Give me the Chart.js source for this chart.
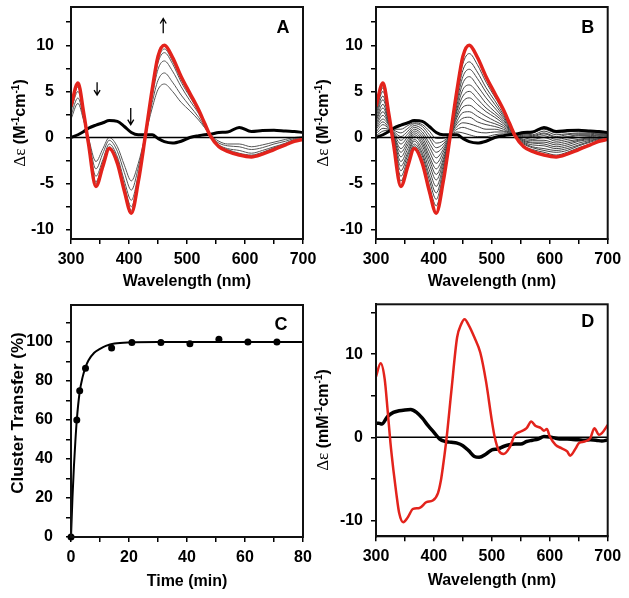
<!DOCTYPE html>
<html>
<head>
<meta charset="utf-8">
<script src="https://cdn.jsdelivr.net/npm/chart.js@4.4.1/dist/chart.umd.min.js"></script>
<style>
  body { margin: 0; background: #fff; }
  canvas { position: absolute; }
</style>
</head>
<body>
<canvas id="ca" width="322" height="298" style="left:0;top:0"></canvas>
<canvas id="cb" width="317" height="298" style="left:312px;top:0"></canvas>
<canvas id="cc" width="322" height="300" style="left:0;top:298px"></canvas>
<canvas id="cd" width="317" height="300" style="left:312px;top:298px"></canvas>
<script>
// ---- data ----
// panels A and B: wavelength grid (nm)
const wl = [300, 312, 322, 330, 343, 355, 366, 380, 392, 404, 416, 428, 440, 450, 461, 475, 490, 505, 520, 530, 540, 555, 570, 590, 611, 630, 650, 670, 685, 700];
// final spectrum (red)
const redAB = [3.4, 5.9, 2.6, -0.6, -5.3, -3.1, -1.2, -2.8, -5.8, -8.2, -4.8, 0.1, 5.2, 8.8, 10.0, 8.7, 6.6, 4.8, 3.0, 1.6, 0.2, -1.0, -1.5, -1.9, -2.1, -1.8, -1.3, -0.8, -0.4, -0.2];
// starting spectrum (black)
const blackAB = [0.0, 0.3, 0.65, 1.0, 1.35, 1.6, 1.85, 1.75, 1.2, 0.55, 0.3, 0.3, 0.3, -0.1, -0.45, -0.6, -0.4, 0.0, 0.2, 0.3, 0.35, 0.55, 0.6, 1.1, 0.65, 0.75, 0.8, 0.7, 0.65, 0.55];

// panel A intermediate spectra (gray)
const grayA1 = [3.3, 5.7, 2.5, -0.5, -5.0, -2.9, -1.1, -2.6, -5.5, -7.9, -4.6, 0.1, 5.0, 8.4, 9.6, 8.3, 6.3, 4.6, 2.9, 1.6, 0.2, -0.9, -1.4, -1.8, -2.0, -1.7, -1.2, -0.7, -0.4, -0.2];
const grayA2 = [3.1, 5.5, 2.4, -0.5, -4.8, -2.7, -1.0, -2.4, -5.2, -7.5, -4.4, 0.1, 4.8, 8.1, 9.2, 8.0, 6.0, 4.4, 2.8, 1.5, 0.2, -0.9, -1.3, -1.7, -1.9, -1.6, -1.1, -0.7, -0.3, -0.1];
const grayA3 = [2.9, 5.0, 2.3, -0.3, -4.2, -2.4, -0.7, -2.1, -4.7, -6.8, -4.0, 0.1, 4.4, 7.4, 8.3, 7.2, 5.5, 4.0, 2.6, 1.4, 0.2, -0.8, -1.2, -1.4, -1.7, -1.4, -1.0, -0.6, -0.2, -0.1];
const grayA4 = [2.4, 4.3, 2.0, -0.1, -3.4, -1.7, -0.3, -1.5, -3.8, -5.7, -3.3, 0.2, 3.8, 6.2, 7.0, 6.0, 4.6, 3.4, 2.2, 1.2, 0.2, -0.6, -0.9, -1.0, -1.3, -1.1, -0.7, -0.4, -0.1, 0.0];
const grayA5 = [2.0, 3.7, 1.8, 0.0, -2.6, -1.2, 0.0, -1.0, -3.0, -4.7, -2.8, 0.2, 3.2, 5.2, 5.8, 5.0, 3.8, 2.9, 1.9, 1.1, 0.3, -0.4, -0.7, -0.7, -1.0, -0.8, -0.5, -0.2, 0.0, 0.1];

// panel B intermediate spectra (gray), from near-final to near-start
const grayB = [
  [3.1, 5.4, 2.4, -0.5, -4.7, -2.7, -0.9, -2.4, -5.2, -7.4, -4.3, 0.1, 4.8, 8.0, 9.1, 7.9, 6.0, 4.4, 2.8, 1.5, 0.2, -0.9, -1.3, -1.6, -1.9, -1.6, -1.1, -0.7, -0.3, -0.1],
  [2.8, 5.0, 2.3, -0.3, -4.2, -2.3, -0.7, -2.0, -4.6, -6.7, -3.9, 0.1, 4.4, 7.3, 8.2, 7.1, 5.4, 4.0, 2.5, 1.4, 0.2, -0.7, -1.1, -1.4, -1.6, -1.4, -0.9, -0.5, -0.2, -0.1],
  [2.6, 4.5, 2.1, -0.2, -3.6, -1.9, -0.4, -1.7, -4.1, -6.0, -3.5, 0.2, 4.0, 6.6, 7.4, 6.4, 4.9, 3.6, 2.3, 1.3, 0.2, -0.6, -1.0, -1.2, -1.4, -1.2, -0.8, -0.4, -0.1, 0.0],
  [2.3, 4.1, 2.0, -0.1, -3.1, -1.6, -0.2, -1.3, -3.5, -5.3, -3.1, 0.2, 3.6, 5.9, 6.6, 5.6, 4.3, 3.2, 2.1, 1.2, 0.3, -0.5, -0.8, -0.9, -1.2, -1.0, -0.6, -0.3, -0.1, 0.1],
  [2.0, 3.6, 1.8, 0.1, -2.6, -1.2, 0.1, -0.9, -2.9, -4.6, -2.7, 0.2, 3.2, 5.2, 5.7, 4.9, 3.7, 2.8, 1.9, 1.1, 0.3, -0.4, -0.6, -0.7, -1.0, -0.8, -0.4, -0.2, 0.0, 0.1],
  [1.8, 3.2, 1.7, 0.2, -2.1, -0.8, 0.3, -0.6, -2.4, -4.0, -2.4, 0.2, 2.9, 4.5, 5.0, 4.2, 3.2, 2.5, 1.7, 1.0, 0.3, -0.3, -0.5, -0.5, -0.8, -0.6, -0.3, -0.1, 0.1, 0.2],
  [1.5, 2.8, 1.5, 0.3, -1.6, -0.5, 0.5, -0.3, -2.0, -3.4, -2.0, 0.2, 2.5, 3.9, 4.3, 3.6, 2.8, 2.2, 1.5, 0.9, 0.3, -0.2, -0.3, -0.3, -0.6, -0.4, -0.2, 0.0, 0.2, 0.2],
  [1.3, 2.4, 1.4, 0.4, -1.2, -0.2, 0.7, 0.0, -1.5, -2.8, -1.6, 0.2, 2.2, 3.3, 3.5, 2.9, 2.3, 1.8, 1.3, 0.8, 0.3, 0.0, -0.2, 0.0, -0.4, -0.2, 0.0, 0.1, 0.3, 0.3],
  [1.1, 2.0, 1.3, 0.5, -0.7, 0.1, 0.9, 0.3, -1.0, -2.2, -1.3, 0.2, 1.8, 2.7, 2.8, 2.3, 1.8, 1.5, 1.1, 0.7, 0.3, 0.1, 0.0, 0.2, -0.2, 0.0, 0.2, 0.2, 0.3, 0.3],
  [0.9, 1.7, 1.1, 0.6, -0.3, 0.4, 1.1, 0.6, -0.6, -1.6, -1.0, 0.3, 1.5, 2.1, 2.2, 1.7, 1.4, 1.2, 0.9, 0.6, 0.3, 0.2, 0.1, 0.4, 0.0, 0.1, 0.3, 0.3, 0.4, 0.4],
  [0.6, 1.4, 1.0, 0.7, 0.1, 0.7, 1.3, 0.9, -0.1, -1.1, -0.7, 0.3, 1.2, 1.6, 1.5, 1.2, 0.9, 0.9, 0.7, 0.6, 0.3, 0.3, 0.2, 0.5, 0.1, 0.3, 0.4, 0.4, 0.5, 0.4],
  [0.4, 1.0, 0.9, 0.8, 0.5, 1.0, 1.5, 1.2, 0.3, -0.6, -0.4, 0.3, 0.9, 1.1, 0.9, 0.6, 0.5, 0.6, 0.6, 0.5, 0.3, 0.4, 0.3, 0.7, 0.3, 0.4, 0.5, 0.5, 0.5, 0.5],
  [0.2, 0.7, 0.8, 0.9, 0.9, 1.3, 1.6, 1.4, 0.7, -0.1, -0.1, 0.3, 0.6, 0.5, 0.3, 0.1, 0.1, 0.3, 0.4, 0.4, 0.3, 0.4, 0.5, 0.9, 0.5, 0.6, 0.7, 0.6, 0.6, 0.5]
];

// panel A arrows (nm, from, to)
const arrowNm = [459, 345, 403];
const arrowFrom = [11.3, 6.0, 3.2];
const arrowTo = [12.9, 4.6, 1.4];

// panel C: cluster transfer vs time
const timeMin = [0, 2, 3, 5, 14, 21, 31, 41, 51, 61, 71];
const transfer = [0, 60, 75, 86.5, 97, 99.8, 99.8, 99.1, 101.4, 100, 100];
const fitTime = [0, 0.5, 1, 1.5, 2, 3, 4, 5, 6, 8, 10, 12, 15, 20, 30, 50, 80];
const fitTransfer = [0, 20, 36, 49, 60, 74.5, 82, 87, 90.5, 94.5, 96.5, 98, 99.2, 99.8, 100, 100, 100];

// panel D
const wlRedD = [300, 308, 315, 320, 325, 330, 335, 340, 347, 355, 364, 375, 387, 398, 407, 412, 416, 422, 430, 440, 447, 453, 460, 470, 480, 490, 500, 505, 512, 520, 530, 540, 550, 560, 568, 575, 585, 590, 595, 600, 610, 620, 630, 635, 645, 650, 660, 670, 677, 685, 690, 700];
const redD = [7.3, 8.9, 7.0, 3.3, -0.7, -3.9, -6.7, -9.1, -10.2, -9.6, -8.6, -8.5, -7.8, -7.6, -6.7, -5.2, -3.3, 0.0, 5.5, 12.0, 13.6, 14.2, 13.5, 12.0, 10.2, 6.7, 2.0, 0.0, -1.6, -2.0, -1.3, 0.3, 0.7, 1.1, 1.9, 1.4, 1.1, 0.8, 1.0, 0.1, -0.9, -1.3, -1.7, -2.2, -1.3, -0.7, -0.5, -0.1, 1.1, 0.3, 0.5, 1.5];
const wlBlackD = [300, 305, 310, 320, 330, 340, 350, 360, 370, 380, 390, 400, 410, 420, 430, 440, 450, 460, 470, 478, 490, 500, 510, 520, 530, 540, 550, 560, 570, 580, 590, 600, 610, 620, 630, 640, 650, 660, 670, 680, 690, 700];
const blackD = [1.7, 1.7, 1.6, 2.5, 3.0, 3.2, 3.3, 3.35, 3.0, 2.3, 1.4, 0.6, -0.2, -0.5, -0.6, -0.7, -1.0, -1.6, -2.3, -2.4, -2.0, -1.5, -1.4, -1.1, -0.9, -0.8, -0.8, -0.5, -0.35, -0.2, 0.1, 0.05, -0.1, -0.2, -0.2, -0.25, -0.3, -0.35, -0.3, -0.35, -0.45, -0.3];

// ---- drawing ----
const FAMILY = '"Liberation Sans", Arial, sans-serif';
const tickFont = { family: FAMILY, size: 16, weight: 'bold' };
const BOLD = 'bold 16px ' + FAMILY;
const SUP = 'bold 10px ' + FAMILY;
const GREEK = '17px "Liberation Serif", "DejaVu Serif", serif';
const RED = '#e3231c';

const onStep = (v, s) => Math.abs(v / s - Math.round(v / s)) < 1e-6;

function axis(min, max, step, labelStep, pad, size, extra) {
  return Object.assign({
    type: 'linear', min, max,
    afterBuildTicks: s => { s.ticks = s.ticks.filter(t => onStep(t.value, step)); },
    afterFit: s => {
      if (s.isHorizontal()) s.height = size; else s.width = size;
      s.paddingLeft = s.paddingRight = s.paddingTop = s.paddingBottom = 0;
    },
    ticks: {
      stepSize: step, includeBounds: false, autoSkip: false, maxRotation: 0, minRotation: 0, padding: pad,
      color: '#000', font: tickFont,
      callback: v => onStep(v, labelStep) ? String(v) : ''
    },
    grid: { drawOnChartArea: false, drawTicks: true, tickLength: 5, color: '#000', lineWidth: 1.5 },
    border: { display: true, color: '#000', width: 2 }
  }, extra || {});
}

function xTitle(text, pb) {
  return { display: true, text, color: '#000', font: { family: FAMILY, size: 16, weight: 'bold' }, padding: { top: 0, bottom: pb } };
}

function series(xs, ys, color, width, extra) {
  return Object.assign({
    data: xs.map((x, i) => ({ x, y: ys[i] })),
    borderColor: color, backgroundColor: color, borderWidth: width,
    pointRadius: 0, fill: false, cubicInterpolationMode: 'monotone'
  }, extra || {});
}

const zeroLine = () => series([300, 700], [0, 0], '#000', 1.5, { cubicInterpolationMode: 'default', tension: 0 });

// rotated y title, mixed fonts
const yTitlePlugin = {
  id: 'ytitle',
  afterDraw(chart, args, o) {
    if (!o.parts) return;
    const ctx = chart.ctx;
    let w = 0;
    o.parts.forEach(p => { ctx.font = p.font; w += ctx.measureText(p.t).width; });
    ctx.save();
    ctx.translate(o.x, o.y);
    ctx.rotate(-Math.PI / 2);
    ctx.fillStyle = '#000';
    ctx.textBaseline = 'middle';
    ctx.textAlign = 'left';
    let cx = -w / 2;
    o.parts.forEach(p => {
      ctx.font = p.font;
      ctx.fillText(p.t, cx, p.dy || 0);
      cx += ctx.measureText(p.t).width;
    });
    ctx.restore();
  }
};

// frame, panel letter, arrows
const decoPlugin = {
  id: 'deco',
  afterDatasetsDraw(chart, args, o) {
    const { ctx, chartArea: a, scales } = chart;
    ctx.save();
    ctx.strokeStyle = '#111';
    ctx.lineWidth = 2;
    ctx.strokeRect(a.left, a.top, a.right - a.left, a.bottom - a.top);
    if (o.letter) {
      ctx.font = 'bold 18px ' + FAMILY;
      ctx.fillStyle = '#000';
      ctx.textAlign = 'center';
      ctx.textBaseline = 'alphabetic';
      ctx.fillText(o.letter, a.right - o.lx, a.top + o.ly);
    }
    (o.arrows || []).forEach(ar => {
      const x = scales.x.getPixelForValue(ar.x);
      const y0 = scales.y.getPixelForValue(ar.from);
      const y1 = scales.y.getPixelForValue(ar.to);
      const dir = y1 < y0 ? 1 : -1;
      ctx.strokeStyle = '#000';
      ctx.lineWidth = 1.3;
      ctx.beginPath();
      ctx.moveTo(x, y0); ctx.lineTo(x, y1);
      ctx.moveTo(x - 3, y1 + dir * 5); ctx.lineTo(x, y1); ctx.lineTo(x + 3, y1 + dir * 5);
      ctx.stroke();
    });
    ctx.restore();
  }
};

function dEpsParts(unit) {
  return [
    { t: 'Δε', font: GREEK },
    { t: ' (' + unit, font: BOLD },
    { t: '-1', font: SUP, dy: -5 },
    { t: 'cm', font: BOLD },
    { t: '-1', font: SUP, dy: -5 },
    { t: ')', font: BOLD }
  ];
}

function makeChart(id, datasets, scales, padding, plugOpts) {
  return new Chart(document.getElementById(id), {
    type: 'line',
    data: { datasets },
    options: {
      responsive: false,
      animation: false,
      events: [],
      layout: { padding },
      scales,
      plugins: Object.assign({ legend: { display: false }, tooltip: { enabled: false } }, plugOpts)
    },
    plugins: [yTitlePlugin, decoPlugin]
  });
}

// Panel A
makeChart('ca',
  [
    series(wl, redAB, RED, 3.5),
    series(wl, blackAB, '#000', 3),
    zeroLine(),
    ...[grayA1, grayA2, grayA3, grayA4, grayA5].map(g => series(wl, g, '#555', 1))
  ],
  {
    x: axis(300, 700, 50, 100, 6, 59, { title: xTitle('Wavelength (nm)', 7) }),
    y: axis(-11, 14.15, 2.5, 5, 12, 71)
  },
  { left: 0, right: 19, top: 7, bottom: 0 },
  {
    ytitle: { x: 21, y: 123, parts: dEpsParts('M') },
    deco: { letter: 'A', lx: 20, ly: 26, arrows: arrowNm.map((x, i) => ({ x, from: arrowFrom[i], to: arrowTo[i] })) }
  }
);

// Panel B
makeChart('cb',
  [
    series(wl, redAB, RED, 3.5),
    series(wl, blackAB, '#000', 3),
    zeroLine(),
    ...grayB.map(g => series(wl, g, '#444', 1))
  ],
  {
    x: axis(300, 700, 50, 100, 6, 59, { title: xTitle('Wavelength (nm)', 7) }),
    y: axis(-11, 14.15, 2.5, 5, 8, 64)
  },
  { left: 0, right: 21.3, top: 7, bottom: 0 },
  {
    ytitle: { x: 12, y: 123, parts: dEpsParts('M') },
    deco: { letter: 'B', lx: 20, ly: 26 }
  }
);

// Panel C
makeChart('cc',
  [
    series(timeMin, transfer, '#000', 0, { showLine: false, pointRadius: 3.5, pointBorderWidth: 0, clip: false }),
    series(fitTime, fitTransfer, '#000', 2)
  ],
  {
    x: axis(0, 80, 10, 20, 6, 61, { title: xTitle('Time (min)', 7) }),
    y: axis(0, 119, 10, 20, 13, 71)
  },
  { left: 0, right: 19, top: 7, bottom: 0 },
  {
    ytitle: { x: 18, y: 115, parts: [{ t: 'Cluster Transfer (%)', font: 'bold 17px ' + FAMILY }] },
    deco: { letter: 'C', lx: 22, ly: 25 }
  }
);

// Panel D
makeChart('cd',
  [
    series(wlRedD, redD, RED, 2.5),
    series(wlBlackD, blackD, '#000', 3.5),
    zeroLine()
  ],
  {
    x: axis(300, 700, 50, 100, 6, 61.7, { title: xTitle('Wavelength (nm)', 8) }),
    y: axis(-11.9, 16, 5, 10, 8, 64)
  },
  { left: 0, right: 21.3, top: 6.3, bottom: 0 },
  {
    ytitle: { x: 12, y: 122, parts: dEpsParts('mM') },
    deco: { letter: 'D', lx: 20, ly: 23 }
  }
);
</script>
</body>
</html>
